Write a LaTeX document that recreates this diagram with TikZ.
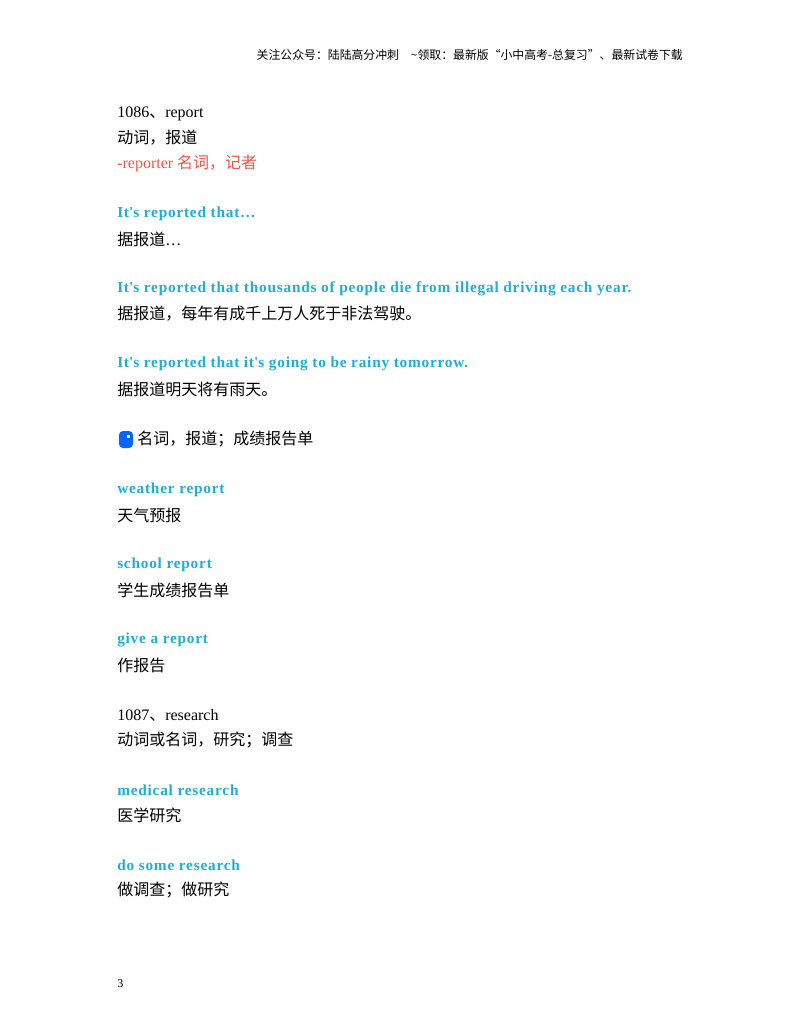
\documentclass[tikz,border=0pt]{standalone}
\usepackage{fontspec}
\setmainfont{Liberation Serif}
\newfontfamily\cjk{Noto Sans CJK SC}
\newfontfamily\bsp[LetterSpace=5,Ligatures=NoCommon]{Liberation Serif}
\definecolor{kblue}{RGB}{30,175,215}
\definecolor{kred}{RGB}{240,85,70}
\begin{document}
\begin{tikzpicture}[x=0.75pt,y=-0.75pt,
  t/.style={anchor=west,inner sep=0,font=\fontsize{12}{14}\selectfont},
  b/.style={t,text=kblue,font=\fontsize{11.5}{14}\selectfont\bsp\bfseries},
  r/.style={t,text=kred}]
\fill[white] (0,0) rectangle (800,1035);
\begin{scope}[yshift=-2.25pt]
\node[anchor=east,inner sep=0,font=\fontsize{8.9}{10}\selectfont\cjk] (hd) at (683,52) {关注公众号：陆陆高分冲刺\quad \textasciitilde 领取：最新版“小中高考-总复习”、最新试卷下载};
\node[t] (a1) at (117,111) {1086{\cjk 、}report};
\node[t] (a2) at (117,135) {\cjk 动词，报道};
\node[r] (a3) at (117,160) {-reporter {\cjk 名词，记者}};
\node[b] (a4) at (117,211) {It\textquotesingle s reported that…};
\node[t] (a5) at (117,236) {{\cjk 据报道}…};
\node[b] (a6) at (117,286) {It\textquotesingle s reported that thousands of people die from illegal driving each year.};
\node[t] (a7) at (117,311) {\cjk 据报道，每年有成千上万人死于非法驾驶。};
\node[b] (a8) at (117,361) {It\textquotesingle s reported that it\textquotesingle s going to be rainy tomorrow.};
\node[t] (a9) at (117,386) {\cjk 据报道明天将有雨天。};
\fill[blue!60!cyan, rounded corners=3pt] (119,445) -- (119,428) -- (133,428) -- (133,445) -- cycle;
\fill[white] (127,432) rectangle (130,435);
\node[t] (a10) at (137,436) {\cjk 名词，报道；成绩报告单};
\node[b] (a11) at (117,487) {weather report};
\node[t] (a12) at (117,512) {\cjk 天气预报};
\node[b] (a13) at (117,562) {school report};
\node[t] (a14) at (117,587) {\cjk 学生成绩报告单};
\node[b] (a15) at (117,637) {give a report};
\node[t] (a16) at (117,662) {\cjk 作报告};
\node[t] (a17) at (117,712) {1087{\cjk 、}research};
\node[t] (a18) at (117,737) {\cjk 动词或名词，研究；调查};
\node[b] (a19) at (117,787) {medical research};
\node[t] (a20) at (117,812) {\cjk 医学研究};
\node[b] (a21) at (117,862) {do some research};
\node[t] (a22) at (117,887) {\cjk 做调查；做研究};
\node[t,font=\fontsize{9}{10}\selectfont] (pg) at (117,981) {3};
\end{scope}
\end{tikzpicture}
\end{document}
